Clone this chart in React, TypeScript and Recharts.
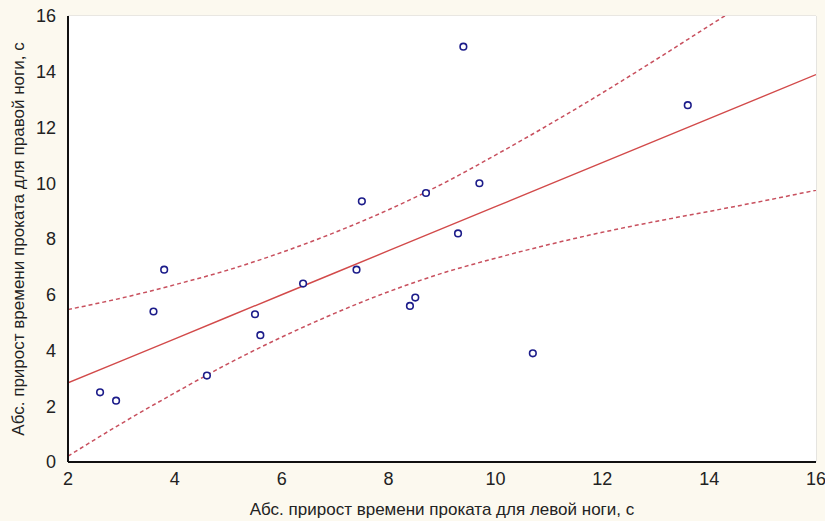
import {
  ComposedChart,
  Line,
  Scatter,
  XAxis,
  YAxis,
  CartesianGrid,
} from "recharts";

// observations: left leg (x) vs right leg (y), seconds
const leftLeg = [2.6, 2.9, 3.6, 3.8, 4.6, 5.5, 5.6, 6.4, 7.4, 7.5, 8.4, 8.5, 8.7, 9.3, 9.4, 9.7, 10.7, 13.6];
const rightLeg = [2.5, 2.2, 5.4, 6.9, 3.1, 5.3, 4.55, 6.4, 6.9, 9.35, 5.6, 5.9, 9.65, 8.2, 14.9, 10.0, 3.9, 12.8];

// regression line and 95% band
const fitX = [2, 3, 4, 5, 6, 7, 8, 9, 10, 11, 12, 13, 14, 15, 16];
const fitY = [2.84, 3.63, 4.42, 5.21, 6.0, 6.79, 7.58, 8.37, 9.16, 9.95, 10.74, 11.53, 12.32, 13.11, 13.9];
const upperY = [5.47, 5.88, 6.36, 6.89, 7.52, 8.24, 9.05, 9.97, 11.01, 12.1, 13.24, 14.43, 15.65, 16.86, 18.05];
const lowerY = [0.21, 1.38, 2.48, 3.53, 4.48, 5.34, 6.11, 6.77, 7.31, 7.8, 8.24, 8.63, 8.99, 9.36, 9.75];

const xTicks = [2, 4, 6, 8, 10, 12, 14, 16];
const yTicks = [0, 2, 4, 6, 8, 10, 12, 14, 16];
const xMinor = [2, 3, 4, 5, 6, 7, 8, 9, 10, 11, 12, 13, 14, 15, 16];
const yMinor = [0, 1, 2, 3, 4, 5, 6, 7, 8, 9, 10, 11, 12, 13, 14, 15, 16];

const xLabel = "Абс. прирост времени проката для левой ноги, с";
const yLabel = "Абс. прирост времени проката для правой ноги, с";

const points = leftLeg.map((x, i) => ({ x, y: rightLeg[i] }));
const fit = fitX.map((x, i) => ({ x, fit: fitY[i], upper: upperY[i], lower: lowerY[i] }));

const font = "'Liberation Sans', Arial, sans-serif";
const tickStyle = { fontSize: 18, fill: "#222", fontFamily: font };

const Dot = (props: any) => (
  <circle cx={props.cx} cy={props.cy} r={3.3} fill="#fff" stroke="#1c1c8a" strokeWidth={1.6} />
);

export default function App() {
  return (
    <div
      style={{
        position: "absolute",
        left: 0,
        top: 0,
        width: 825,
        height: 521,
        background: "#fcf9ef",
      }}
    >
      <ComposedChart
        width={825}
        height={521}
        data={fit}
        margin={{ top: 16, right: 9, left: 0, bottom: 0 }}
      >
        <rect x={68} y={16} width={748} height={446} fill="#fff" />
        <CartesianGrid stroke="#d6d6d6" strokeWidth={1.2} />
        <XAxis
          dataKey="x"
          type="number"
          domain={[2, 16]}
          ticks={xTicks}
          allowDataOverflow
          height={59}
          axisLine={{ stroke: "#111", strokeWidth: 2 }}
          tickLine={false}
          tick={tickStyle}
          tickMargin={4}
          label={{
            value: xLabel,
            position: "insideBottom",
            offset: 6,
            fontSize: 17,
            fill: "#222",
            fontFamily: font,
          }}
        />
        <YAxis
          type="number"
          domain={[0, 16]}
          ticks={yTicks}
          allowDataOverflow
          width={68}
          axisLine={{ stroke: "#111", strokeWidth: 2 }}
          tickLine={false}
          tick={tickStyle}
          tickMargin={6}
          label={{
            value: yLabel,
            angle: -90,
            position: "insideLeft",
            offset: 18,
            fontSize: 17,
            fill: "#222",
            fontFamily: font,
            style: { textAnchor: "middle" },
          }}
        />
        {/* inward ticks and frame */}
        <XAxis
          xAxisId="b"
          type="number"
          domain={[2, 16]}
          ticks={xMinor}
          height={0}
          mirror
          axisLine={false}
          tickLine={{ stroke: "#333", strokeWidth: 1 }}
          tickSize={4}
          tick={false}
        />
        <XAxis
          xAxisId="t"
          orientation="top"
          type="number"
          domain={[2, 16]}
          ticks={xMinor}
          height={0}
          mirror
          axisLine={{ stroke: "#555", strokeWidth: 2 }}
          tickLine={{ stroke: "#555", strokeWidth: 1 }}
          tickSize={4}
          tick={false}
        />
        <YAxis
          yAxisId="l"
          type="number"
          domain={[0, 16]}
          ticks={yMinor}
          width={0}
          mirror
          axisLine={false}
          tickLine={{ stroke: "#333", strokeWidth: 1 }}
          tickSize={4}
          tick={false}
        />
        <YAxis
          yAxisId="r"
          orientation="right"
          type="number"
          domain={[0, 16]}
          ticks={yMinor}
          width={0}
          mirror
          axisLine={{ stroke: "#555", strokeWidth: 2.5 }}
          tickLine={{ stroke: "#555", strokeWidth: 1 }}
          tickSize={4}
          tick={false}
        />
        <Line
          dataKey="upper"
          type="monotone"
          stroke="#c8505e"
          strokeWidth={1.5}
          strokeDasharray="4 3"
          dot={false}
          activeDot={false}
          isAnimationActive={false}
        />
        <Line
          dataKey="lower"
          type="monotone"
          stroke="#c8505e"
          strokeWidth={1.5}
          strokeDasharray="4 3"
          dot={false}
          activeDot={false}
          isAnimationActive={false}
        />
        <Line
          dataKey="fit"
          type="linear"
          stroke="#d24a4a"
          strokeWidth={1.4}
          dot={false}
          activeDot={false}
          isAnimationActive={false}
        />
        <Scatter data={points} dataKey="y" shape={Dot} isAnimationActive={false} />
      </ComposedChart>
    </div>
  );
}
